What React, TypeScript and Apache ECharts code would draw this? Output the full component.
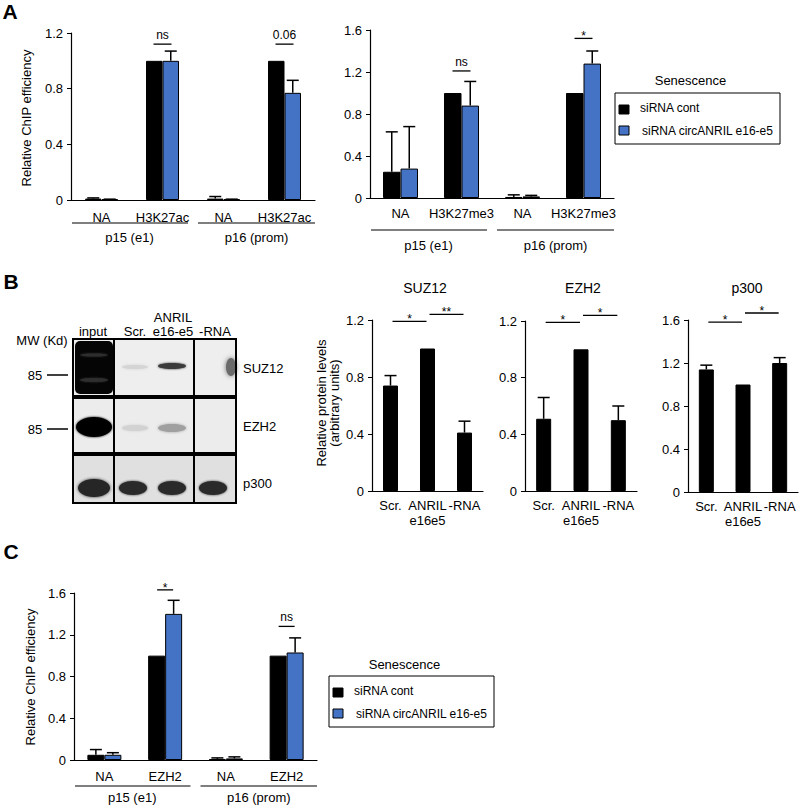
import React, { useEffect, useRef } from "react";
import * as echarts from "echarts";

const FONT = '"Liberation Sans", Arial, Helvetica, sans-serif';
const BLUE = "#4472c4";

// Panel A left
const catsA1 = ["NA", "H3K27ac", "NA", "H3K27ac"];
const a1Cont = [0.01, 1.0, 0.01, 1.0];
const a1ContTop = [0.015, 1.0, 0.025, 1.0];
const a1Si = [0.005, 1.0, 0.005, 0.77];
const a1SiTop = [0.006, 1.07, 0.006, 0.86];
const sigA1Cat = [1, 3];
const sigA1Y = [1.12, 1.12];
const sigA1Text = ["ns", "0.06"];

// Panel A right
const catsA2 = ["NA", "H3K27me3", "NA", "H3K27me3"];
const a2Cont = [0.25, 1.0, 0.01, 1.0];
const a2ContTop = [0.63, 1.0, 0.03, 1.0];
const a2Si = [0.28, 0.88, 0.015, 1.28];
const a2SiTop = [0.68, 1.11, 0.025, 1.4];
const sigA2Cat = [1, 3];
const sigA2Y = [1.21, 1.52];
const sigA2Text = ["ns", "*"];

// Panel B
const catsB = ["Scr.", "ANRIL\ne16e5", "-RNA"];
const suz12 = [0.74, 1.0, 0.41];
const suz12Top = [0.81, 1.0, 0.49];
const ezh2 = [0.51, 1.0, 0.5];
const ezh2Top = [0.66, 1.0, 0.6];
const p300 = [1.14, 1.0, 1.2];
const p300Top = [1.18, 1.0, 1.25];
const sigBFrom = [0, 1];
const sigSuzY = [1.19, 1.24];
const sigSuzText = ["*", "**"];
const sigEzhY = [1.19, 1.24];
const sigEzhText = ["*", "*"];
const sigP300Y = [1.58, 1.665];
const sigP300Text = ["*", "*"];

// Panel C
const catsC = ["NA", "EZH2", "NA", "EZH2"];
const cCont = [0.05, 1.0, 0.01, 1.0];
const cContTop = [0.1, 1.0, 0.02, 1.0];
const cSi = [0.05, 1.4, 0.015, 1.03];
const cSiTop = [0.07, 1.53, 0.03, 1.17];
const sigCCat = [1, 3];
const sigCY = [1.63, 1.28];
const sigCText = ["*", "ns"];

const groupLabels = ["p15 (e1)", "p16 (prom)"];
const legendNames = ["siRNA cont", "siRNA circANRIL e16-e5"];

const GRIDS = [
  { left: 71, top: 33, width: 244, height: 167 },
  { left: 370, top: 30, width: 244, height: 168 },
  { left: 372, top: 320, width: 111, height: 171 },
  { left: 525, top: 321, width: 112, height: 170 },
  { left: 688, top: 320, width: 110, height: 172 },
  { left: 74, top: 593, width: 243, height: 167 },
];

function yAx(gi: number, max: number) {
  return {
    type: "value",
    gridIndex: gi,
    min: 0,
    max,
    interval: 0.4,
    axisLine: { show: true, lineStyle: { color: "#000", width: 1.2 } },
    axisTick: { show: true, length: 4, lineStyle: { color: "#000" } },
    axisLabel: { color: "#000", fontSize: 13, fontFamily: FONT, margin: 8 },
    splitLine: { show: false },
  };
}
function xAx(gi: number, cats: string[], margin: number) {
  return {
    type: "category",
    gridIndex: gi,
    data: cats,
    axisLine: { lineStyle: { color: "#000", width: 1.2 } },
    axisTick: { show: false },
    axisLabel: { color: "#000", fontSize: 13, fontFamily: FONT, margin, interval: 0, lineHeight: 15 },
  };
}
function bar(gi: number, name: string, data: number[], color: string, w: number) {
  return {
    type: "bar",
    name,
    xAxisIndex: gi,
    yAxisIndex: gi,
    data,
    barWidth: w,
    barGap: "0%",
    itemStyle: { color, borderColor: "#000", borderWidth: 1 },
    z: 2,
  };
}
function err(gi: number, vals: number[], tops: number[], offset: number) {
  return {
    type: "custom",
    xAxisIndex: gi,
    yAxisIndex: gi,
    clip: false,
    z: 5,
    data: vals.map((v, i) => [i, v, tops[i]]),
    renderItem: (params: any, api: any) => {
      const i = api.value(0);
      const v = api.value(1);
      const t = api.value(2);
      if (t <= v + 1e-9) return { type: "group", children: [] };
      const p1 = api.coord([i, v]);
      const p2 = api.coord([i, t]);
      const x = p1[0] + offset;
      return {
        type: "group",
        children: [
          { type: "line", shape: { x1: x, y1: p1[1], x2: x, y2: p2[1] }, style: { stroke: "#000", lineWidth: 1.5 } },
          { type: "line", shape: { x1: x - 6, y1: p2[1], x2: x + 6, y2: p2[1] }, style: { stroke: "#000", lineWidth: 1.5 } },
        ],
      };
    },
  };
}
function sigText(x: number, y: number, text: string) {
  const star = text.indexOf("*") >= 0;
  return {
    type: "text",
    x,
    y: star ? y + 4 : y - 3,
    style: {
      text,
      font: `12px ${FONT}`,
      fill: "#000",
      textAlign: "center",
      align: "center",
      textVerticalAlign: "bottom",
      verticalAlign: "bottom",
    },
  };
}
function sigGroup(gi: number, cats: number[], ys: number[], texts: string[], hw: number) {
  return {
    type: "custom",
    xAxisIndex: gi,
    yAxisIndex: gi,
    clip: false,
    z: 6,
    data: cats.map((c, i) => [c, ys[i]]),
    renderItem: (params: any, api: any) => {
      const c = api.coord([api.value(0), api.value(1)]);
      return {
        type: "group",
        children: [
          { type: "line", shape: { x1: c[0] - hw, y1: c[1], x2: c[0] + hw, y2: c[1] }, style: { stroke: "#000", lineWidth: 1.3 } },
          sigText(c[0], c[1], texts[params.dataIndex]),
        ],
      };
    },
  };
}
function sigSpan(gi: number, froms: number[], ys: number[], texts: string[]) {
  return {
    type: "custom",
    xAxisIndex: gi,
    yAxisIndex: gi,
    clip: false,
    z: 6,
    data: froms.map((f, i) => [f, ys[i]]),
    renderItem: (params: any, api: any) => {
      const f = api.value(0);
      const a = api.coord([f, api.value(1)]);
      const b = api.coord([f + 1, api.value(1)]);
      const x1 = a[0] + 2;
      const x2 = b[0] - 1;
      return {
        type: "group",
        children: [
          { type: "line", shape: { x1, y1: a[1], x2, y2: a[1] }, style: { stroke: "#000", lineWidth: 1.3 } },
          sigText((x1 + x2) / 2, a[1], texts[params.dataIndex]),
        ],
      };
    },
  };
}

function txt(x: number, y: number, text: string, size = 13, extra: any = {}) {
  return {
    type: "text",
    x,
    y,
    z: 20,
    style: {
      text,
      font: `${extra.bold ? "bold " : ""}${size}px ${FONT}`,
      fill: "#000",
      textAlign: extra.align || "center",
      align: extra.align || "center",
      textVerticalAlign: "middle",
      verticalAlign: "middle",
      lineHeight: extra.lineHeight || size + 1,
    },
    rotation: extra.rotation || 0,
  };
}
function ln(x1: number, y1: number, x2: number, y2: number, w = 1.2) {
  return { type: "line", z: 20, shape: { x1, y1, x2, y2 }, style: { stroke: "#000", lineWidth: w } };
}
function groupUnder(g: any, lineY: number, labelY: number) {
  const mid = g.left + g.width / 2;
  const right = g.left + g.width;
  return [
    ln(g.left + 1, lineY, mid - 5, lineY),
    ln(mid + 5, lineY, right, lineY),
    txt((g.left + mid - 5) / 2, labelY, groupLabels[0]),
    txt((mid + 5 + right) / 2, labelY, groupLabels[1]),
  ];
}
function legend(x: number, y: number, w: number, h: number, titleY: number) {
  return [
    txt(x + w / 2 - 7, titleY, "Senescence", 13),
    { type: "rect", z: 20, shape: { x, y, width: w, height: h }, style: { fill: "#fff", stroke: "#000", lineWidth: 1 } },
    { type: "rect", z: 21, shape: { x: x + 4, y: y + 12, width: 10, height: 9 }, style: { fill: "#000", stroke: "#000", lineWidth: 1 } },
    { type: "rect", z: 21, shape: { x: x + 4, y: y + 33, width: 10, height: 9 }, style: { fill: BLUE, stroke: "#000", lineWidth: 1 } },
    txt(x + 25, y + 15, legendNames[0], 12, { align: "left" }),
    txt(x + 27, y + 38, legendNames[1], 12, { align: "left" }),
  ];
}
function ell(cx: number, cy: number, rx: number, ry: number, fill: string, blur = 3) {
  return { type: "ellipse", z: 11, shape: { cx, cy, rx, ry }, style: { fill, shadowBlur: blur, shadowColor: fill } };
}

function blot() {
  const rows = [
    { y: 339, h: 57, bg: "#eeeeee" },
    { y: 398, h: 55, bg: "#ececec" },
    { y: 455, h: 48, bg: "#e0e0e0" },
  ];
  const els: any[] = [];
  rows.forEach((r) => {
    els.push({ type: "rect", z: 10, shape: { x: 73, y: r.y, width: 163, height: r.h }, style: { fill: r.bg } });
  });
  // row1 bands
  els.push({ type: "rect", z: 11, shape: { x: 75, y: 341, width: 38, height: 53, r: 5 }, style: { fill: "#050505" } });
  els.push(ell(94, 355, 14, 1.5, "#2e2e2e", 2));
  els.push(ell(94, 380, 14, 2, "#2e2e2e", 2));
  els.push(ell(135, 367, 13, 2, "#d4d4d4"));
  els.push(ell(172, 366, 14, 3, "#3a3a3a", 2));
  els.push(ell(231, 367, 5, 9, "#6a6a6a", 5));
  // row2 bands
  els.push(ell(94, 427, 18, 10, "#050505", 2));
  els.push(ell(135, 428, 13, 3, "#d2d2d2"));
  els.push(ell(172, 428, 14, 4, "#a0a0a0", 3));
  // row3 bands
  els.push(ell(94, 488, 16, 9, "#252525", 3));
  els.push(ell(133, 488, 14, 7, "#2a2a2a", 2));
  els.push(ell(172, 488, 14, 7, "#2a2a2a", 2));
  els.push(ell(213, 488, 14, 7, "#2a2a2a", 2));
  rows.forEach((r) => {
    els.push({ type: "rect", z: 12, shape: { x: 73, y: r.y, width: 163, height: r.h }, style: { fill: "none", stroke: "#000", lineWidth: 2 } });
    els.push(ln(114, r.y, 114, r.y + r.h, 2));
    els.push(ln(194, r.y, 194, r.y + r.h, 2));
  });
  // labels
  els.push(txt(93, 331, "input"));
  els.push(txt(135, 331, "Scr."));
  els.push(txt(173, 317, "ANRIL"));
  els.push(txt(173, 331, "e16-e5"));
  els.push(txt(215, 331, "-RNA"));
  els.push(txt(42, 340, "MW (Kd)"));
  els.push(txt(35, 375, "85"));
  els.push(ln(47, 375, 68, 375, 1.5));
  els.push(txt(35, 429, "85"));
  els.push(ln(47, 429, 68, 429, 1.5));
  els.push(txt(243, 368, "SUZ12", 13, { align: "left" }));
  els.push(txt(243, 426, "EZH2", 13, { align: "left" }));
  els.push(txt(243, 483, "p300", 13, { align: "left" }));
  return els;
}

export default function App() {
  const ref = useRef<HTMLDivElement>(null);
  useEffect(() => {
    if (!ref.current) return;
    const chart = echarts.init(ref.current, null, { renderer: "svg" });
    const option: any = {
      animation: false,
      backgroundColor: "#fff",
      grid: GRIDS,
      xAxis: [
        xAx(0, catsA1, 10),
        xAx(1, catsA2, 8),
        xAx(2, catsB, 7),
        xAx(3, catsB, 7),
        xAx(4, catsB, 7),
        xAx(5, catsC, 9),
      ],
      yAxis: [yAx(0, 1.2), yAx(1, 1.6), yAx(2, 1.2), yAx(3, 1.2), yAx(4, 1.6), yAx(5, 1.6)],
      series: [
        bar(0, legendNames[0], a1Cont, "#000", 16.5),
        bar(0, legendNames[1], a1Si, BLUE, 16.5),
        err(0, a1Cont, a1ContTop, -8.25),
        err(0, a1Si, a1SiTop, 8.25),
        sigGroup(0, sigA1Cat, sigA1Y, sigA1Text, 9),

        bar(1, legendNames[0], a2Cont, "#000", 17.5),
        bar(1, legendNames[1], a2Si, BLUE, 17.5),
        err(1, a2Cont, a2ContTop, -8.75),
        err(1, a2Si, a2SiTop, 8.75),
        sigGroup(1, sigA2Cat, sigA2Y, sigA2Text, 9),

        bar(2, "SUZ12", suz12, "#000", 15),
        err(2, suz12, suz12Top, 0),
        sigSpan(2, sigBFrom, sigSuzY, sigSuzText),

        bar(3, "EZH2", ezh2, "#000", 15),
        err(3, ezh2, ezh2Top, 0),
        sigSpan(3, sigBFrom, sigEzhY, sigEzhText),

        bar(4, "p300", p300, "#000", 15),
        err(4, p300, p300Top, 0),
        sigSpan(4, sigBFrom, sigP300Y, sigP300Text),

        bar(5, legendNames[0], cCont, "#000", 17),
        bar(5, legendNames[1], cSi, BLUE, 17),
        err(5, cCont, cContTop, -8.5),
        err(5, cSi, cSiTop, 8.5),
        sigGroup(5, sigCCat, sigCY, sigCText, 8),
      ],
      graphic: {
        elements: [
          txt(10, 11, "A", 21, { bold: true }),
          txt(11, 281, "B", 21, { bold: true }),
          txt(11, 551, "C", 21, { bold: true }),
          txt(26, 118, "Relative ChIP efficiency", 13, { rotation: Math.PI / 2 }),
          txt(30, 677, "Relative ChIP efficiency", 13, { rotation: Math.PI / 2 }),
          txt(328, 403, "Relative protein levels\n(arbitrary units)", 13, { rotation: Math.PI / 2, lineHeight: 13 }),
          txt(425, 288, "SUZ12", 14),
          txt(583, 288, "EZH2", 14),
          txt(747, 288, "p300", 14),
          ...groupUnder(GRIDS[0], 223, 237),
          ...groupUnder(GRIDS[1], 230, 245),
          ...groupUnder(GRIDS[5], 786, 797),
          ...legend(615, 93, 165, 51, 80),
          ...legend(329, 676, 165, 51, 664),
          ...blot(),
        ],
      },
    };
    chart.setOption(option);
    return () => chart.dispose();
  }, []);
  return (
    <div
      ref={ref}
      style={{ position: "absolute", left: 0, top: 0, width: 800, height: 805, background: "#fff" }}
    />
  );
}
